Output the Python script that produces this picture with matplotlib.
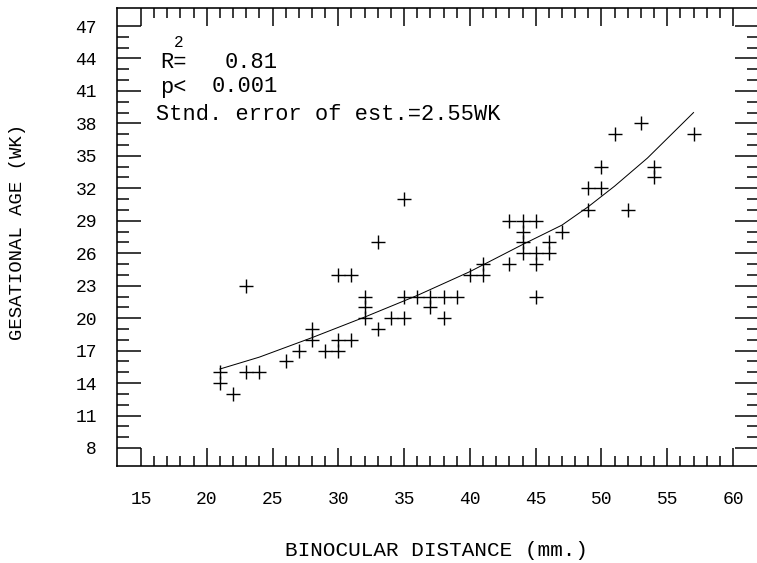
import matplotlib
matplotlib.use("Agg")
import matplotlib.pyplot as plt
from matplotlib.ticker import FixedLocator

# ---- data ----
bd_mm = [21, 21, 22, 23, 23, 24, 26, 27, 28, 28, 29, 30, 30, 30, 31, 31,
         32, 32, 32, 33, 33, 34, 35, 35, 35, 36, 37, 37, 38, 38, 39, 40,
         41, 41, 43, 43, 44, 44, 44, 44, 45, 45, 45, 45, 46, 46, 47, 49,
         49, 50, 50, 51, 52, 53, 54, 54, 57]
ga_wk = [15, 14, 13, 23, 15, 15, 16, 17, 19, 18, 17, 17, 18, 24, 24, 18,
         22, 21, 20, 27, 19, 20, 31, 22, 20, 22, 22, 21, 22, 20, 22, 24,
         24, 25, 29, 25, 29, 28, 27, 26, 29, 26, 25, 22, 27, 26, 28, 32,
         30, 32, 34, 37, 30, 38, 34, 33, 37]

fit_x = [21, 24, 28, 32, 36, 40, 44, 47, 49, 51, 53.5, 57]
fit_y = [15.3, 16.4, 18.2, 20.1, 22.1, 24.3, 26.8, 28.6, 30.3, 32.2, 34.8, 39.0]

x_major = [15, 20, 25, 30, 35, 40, 45, 50, 55, 60]
y_major = [8, 11, 14, 17, 20, 23, 26, 29, 32, 35, 38, 41, 44, 47]
x_minor = list(range(15, 61))
y_minor = list(range(8, 48))

xlabel = "BINOCULAR DISTANCE (mm.)"
ylabel = "GESATIONAL AGE (WK)"
stat_labels = ["R=", "p<"]
stat_values = ["0.81", "0.001"]
stat_line3 = "Stnd. error of est.=2.55WK"

# ---- figure ----
W, H = 757, 563
DPI = 72
plt.rcParams['font.family'] = ['Liberation Mono', 'DejaVu Sans Mono']
fig = plt.figure(figsize=(W / DPI, H / DPI), dpi=DPI)
fig.patch.set_facecolor('white')

left_px, right_px, top_px, bot_px = 117, 759, 8, 466
ax = fig.add_axes([left_px / W, 1 - bot_px / H,
                   (right_px - left_px) / W, (bot_px - top_px) / H])

px_per_x = (733 - 141) / 45.0
px_per_y = (448 - 26) / 39.0
ax.set_xlim(15 - (141 - left_px) / px_per_x, 60 + (right_px - 733) / px_per_x)
ax.set_ylim(8 - (bot_px - 448) / px_per_y, 47 + (26 - top_px) / px_per_y)

ax.plot(bd_mm, ga_wk, linestyle='none', marker='+', markersize=14,
        markeredgewidth=1.4, color='black')
ax.plot(fit_x, fit_y, color='black', linewidth=1.0)

for s in ax.spines.values():
    s.set_linewidth(1.6)

ax.xaxis.set_major_locator(FixedLocator(x_major))
ax.yaxis.set_major_locator(FixedLocator(y_major))
ax.xaxis.set_minor_locator(FixedLocator(x_minor))
ax.yaxis.set_minor_locator(FixedLocator(y_minor))

ax.tick_params(axis='both', which='both', direction='in', top=True, right=True,
               width=1.5, colors='black')
ax.tick_params(axis='x', which='major', length=18, pad=25, labelsize=18)
ax.tick_params(axis='x', which='minor', length=10)
ax.tick_params(axis='y', which='major', length=24, pad=20, labelsize=18)
ax.tick_params(axis='y', which='minor', length=12)
ax.set_xticklabels([str(v) for v in x_major])
ax.set_yticklabels([str(v) for v in y_major])

fig.text(436 / W, 1 - 551 / H, xlabel, ha='center', va='center', fontsize=21)
fig.text(18 / W, 1 - 232 / H, ylabel, ha='center', va='center', fontsize=19,
         rotation=90)

# statistics block
ys = [63, 87]
for lab, val, y in zip(stat_labels, stat_values, ys):
    fig.text(160 / W, 1 - y / H, lab, ha='left', va='center', fontsize=22)
    fig.text(278 / W, 1 - y / H, val, ha='right', va='center', fontsize=22)
fig.text(179 / W, 1 - 50 / H, "2", ha='center', va='bottom', fontsize=16)
fig.text(156 / W, 1 - 114 / H, stat_line3, ha='left', va='center', fontsize=22)

fig.savefig("out.png", dpi=DPI, facecolor='white')
